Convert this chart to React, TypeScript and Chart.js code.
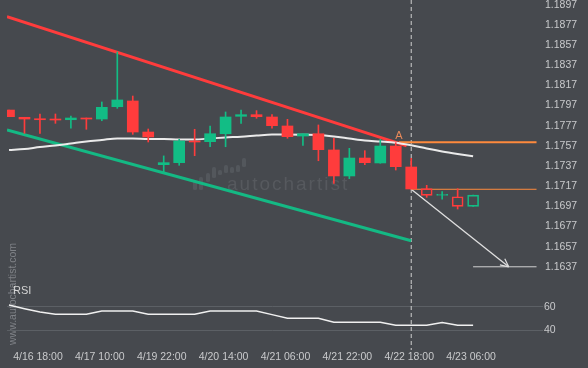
import React, { useEffect, useRef } from 'react';
import { Chart, registerables } from 'chart.js';

Chart.register(...registerables);

// ---------- data ----------
const opens = [1.17925, 1.17853, 1.17836, 1.17836, 1.17829, 1.17846, 1.17836, 1.17958, 1.18015, 1.17707, 1.17383, 1.17403, 1.17618, 1.17611, 1.1769, 1.17863, 1.17879, 1.17856, 1.17767, 1.17667, 1.1769, 1.17529, 1.17271, 1.17449, 1.174, 1.17568, 1.1736, 1.17145, 1.17079, 1.17065, 1.1697];
const highs = [1.17925, 1.17853, 1.17886, 1.17886, 1.17866, 1.17846, 1.18005, 1.18501, 1.18064, 1.17737, 1.1747, 1.17635, 1.17734, 1.17767, 1.17906, 1.17925, 1.17919, 1.17879, 1.17833, 1.1769, 1.17777, 1.17645, 1.17545, 1.17522, 1.17635, 1.17601, 1.17446, 1.17178, 1.17115, 1.17145, 1.17081];
const lows = [1.17859, 1.17694, 1.17694, 1.17793, 1.17744, 1.17734, 1.17819, 1.17942, 1.17684, 1.17608, 1.17313, 1.17377, 1.17472, 1.17561, 1.17561, 1.17793, 1.17843, 1.17744, 1.17645, 1.17575, 1.17422, 1.17198, 1.17244, 1.17383, 1.17397, 1.1733, 1.17142, 1.17059, 1.1704, 1.16943, 1.1697];
const closes = [1.17859, 1.17836, 1.17829, 1.17826, 1.17846, 1.17836, 1.17952, 1.18025, 1.17707, 1.17658, 1.17403, 1.17618, 1.17608, 1.1769, 1.17856, 1.17879, 1.17859, 1.1777, 1.17661, 1.1769, 1.17532, 1.17271, 1.17449, 1.17403, 1.17568, 1.17363, 1.17142, 1.17079, 1.17085, 1.1697, 1.17081];
const maValues = [1.17529, 1.17539, 1.17558, 1.17573, 1.17593, 1.17613, 1.17628, 1.17643, 1.17643, 1.17638, 1.17638, 1.17633, 1.17633, 1.17643, 1.17653, 1.17661, 1.17672, 1.17682, 1.17682, 1.1768, 1.17677, 1.17663, 1.17643, 1.17623, 1.17613, 1.17601, 1.17575, 1.17543, 1.17514, 1.17489, 1.17466];
const rsiValues = [61.4, 58.3, 55.5, 53.6, 53.6, 53.6, 56.4, 56.4, 56.4, 53.6, 53.6, 53.6, 53.6, 56.4, 56.4, 56.4, 56.4, 53.3, 50.3, 50.3, 50.3, 46.9, 46.9, 46.9, 46.9, 44.4, 44.4, 44.4, 46.6, 44.4, 44.4];

const priceTicks = [1.1897, 1.1877, 1.1857, 1.1837, 1.1817, 1.1797, 1.1777, 1.1757, 1.1737, 1.1717, 1.1697, 1.1677, 1.1657, 1.1637];
const rsiTicks = [40, 60];
const xTickIndex = [2, 6, 10, 14, 18, 22, 26, 30];
const xTickLabels = ['4/16 18:00', '4/17 10:00', '4/19 22:00', '4/20 14:00', '4/21 06:00', '4/21 22:00', '4/22 18:00', '4/23 06:00'];

const redTrend = [{ x: -0.13, y: 1.18852 }, { x: 25.7, y: 1.1757 }];
const greenTrend = [{ x: -0.13, y: 1.17727 }, { x: 26, y: 1.16628 }];
const signalIndex = 26;
const resistanceStart = 25.2;
const resistanceLevel = 1.17605;
const breakLevel = 1.17139;
const targetStart = 30;
const targetLevel = 1.1637;
const forecastEnd = 32.3;
const levelEnd = 34.1;

// ---------- axis ranges ----------
const X_MIN = -0.13;
const X_MAX = 34.195;
const PRICE_MIN = 1.161894;
const PRICE_MAX = 1.190166;
const RSI_MIN = 23.6;
const RSI_MAX = 78.2;

// ---------- styles ----------
const BG = '#46494e';
const TEXT = '#c9cacc';
const UP = '#12bd85';
const DOWN = '#ff3c3c';
const ORANGE = '#ff8a3d';
const FONT = '"Liberation Sans", Arial, sans-serif';

Chart.defaults.font.family = FONT;

const idx = opens.map((_, i) => i);
const colors = idx.map((i) => (closes[i] >= opens[i] ? UP : DOWN));
const hollow = idx.map((i) => i > signalIndex);

const logoBars = [
  [193, 180, 4, 10], [199, 177, 4, 13], [206, 173, 4, 9], [212, 167, 4, 11],
  [218, 170, 4, 5], [224, 165, 4, 8], [230, 167, 4, 6], [236, 165, 4, 7], [242, 158, 4, 9],
];

const mainDecor = {
  id: 'mainDecor',
  beforeDatasetsDraw(chart: any) {
    const ctx = chart.ctx;
    ctx.save();
    ctx.fillStyle = '#53575c';
    logoBars.forEach(([x, y, w, h]) => {
      ctx.beginPath();
      if (ctx.roundRect) ctx.roundRect(x, y, w, h, 1.5);
      else ctx.rect(x, y, w, h);
      ctx.fill();
    });
    ctx.font = '19px ' + FONT;
    try { (ctx as any).letterSpacing = '2px'; } catch (e) {}
    ctx.fillStyle = '#56595e';
    ctx.textAlign = 'left';
    ctx.textBaseline = 'alphabetic';
    ctx.fillText('autochartist', 227, 190);
    try { (ctx as any).letterSpacing = '0px'; } catch (e) {}
    ctx.restore();

    ctx.save();
    ctx.translate(13, 345);
    ctx.rotate(-Math.PI / 2);
    ctx.font = '10.5px ' + FONT;
    ctx.fillStyle = '#7f8287';
    ctx.textAlign = 'left';
    ctx.textBaseline = 'middle';
    ctx.fillText('www.autochartist.com', 0, 0);
    ctx.restore();
  },
  afterDatasetsDraw(chart: any) {
    const ctx = chart.ctx;
    const xs = chart.scales.x;
    const ys = chart.scales.y;
    const sx = xs.getPixelForValue(signalIndex);
    const sy = ys.getPixelForValue(breakLevel);
    const tx = xs.getPixelForValue(forecastEnd);
    const ty = ys.getPixelForValue(targetLevel);
    const ang = Math.atan2(ty - sy, tx - sx);
    ctx.save();
    ctx.strokeStyle = '#e0e0e0';
    ctx.lineWidth = 1.2;
    [-1, 1].forEach((s) => {
      const a = ang + Math.PI + s * 0.45;
      ctx.beginPath();
      ctx.moveTo(tx, ty);
      ctx.lineTo(tx + 9 * Math.cos(a), ty + 9 * Math.sin(a));
      ctx.stroke();
    });
    ctx.font = '11px ' + FONT;
    ctx.fillStyle = '#e8895a';
    ctx.textAlign = 'center';
    ctx.textBaseline = 'bottom';
    ctx.fillText('A', xs.getPixelForValue(resistanceStart), ys.getPixelForValue(resistanceLevel) - 1);
    ctx.restore();
  },
};

const rsiDecor = {
  id: 'rsiDecor',
  afterDraw(chart: any) {
    const ctx = chart.ctx;
    const a = chart.chartArea;
    ctx.save();
    ctx.font = '11px ' + FONT;
    ctx.fillStyle = '#d4d4d4';
    ctx.textAlign = 'left';
    ctx.textBaseline = 'middle';
    ctx.fillText('RSI', a.left + 6, a.top + 6);
    ctx.restore();
  },
};

const lineDs = (data: any[], color: string, width: number, order: number, extra: any = {}) => ({
  type: 'line',
  data,
  borderColor: color,
  borderWidth: width,
  pointRadius: 0,
  fill: false,
  order,
  ...extra,
});

export default function App() {
  const mainRef = useRef<HTMLCanvasElement>(null);
  const rsiRef = useRef<HTMLCanvasElement>(null);

  useEffect(() => {
    document.body.style.margin = '0';
    const main = new Chart(mainRef.current as HTMLCanvasElement, {
      type: 'bar',
      data: {
        datasets: [
          {
            type: 'bar',
            data: idx.map((i) => ({ x: i, y: [opens[i], closes[i]] })),
            backgroundColor: idx.map((i) => (hollow[i] ? 'rgba(0,0,0,0)' : colors[i])),
            borderColor: colors,
            borderWidth: idx.map((i) => (hollow[i] ? 1 : 0)),
            borderSkipped: false,
            barThickness: 11,
            grouped: false,
            minBarLength: 1,
            order: 0,
          } as any,
          {
            type: 'bar',
            data: idx.map((i) => ({ x: i, y: [Math.max(opens[i], closes[i]), highs[i]] })),
            backgroundColor: colors,
            borderWidth: 0,
            barThickness: 1,
            grouped: false,
            order: 1,
          } as any,
          {
            type: 'bar',
            data: idx.map((i) => ({ x: i, y: [lows[i], Math.min(opens[i], closes[i])] })),
            backgroundColor: colors,
            borderWidth: 0,
            barThickness: 1,
            grouped: false,
            order: 1,
          } as any,
          lineDs(idx.map((i) => ({ x: i, y: maValues[i] })), 'rgba(240,240,240,0.97)', 2, 2, { cubicInterpolationMode: 'monotone' }),
          lineDs(redTrend, DOWN, 3, 2),
          lineDs(greenTrend, '#14b984', 3, 2),
          lineDs([{ x: resistanceStart, y: resistanceLevel }, { x: levelEnd, y: resistanceLevel }], ORANGE, 2, 2),
          lineDs([{ x: signalIndex, y: breakLevel }, { x: levelEnd, y: breakLevel }], ORANGE, 1, 2),
          lineDs([{ x: targetStart, y: targetLevel }, { x: levelEnd, y: targetLevel }], '#d2d2d2', 1, 2),
          lineDs([{ x: signalIndex, y: breakLevel }, { x: forecastEnd, y: targetLevel }], '#e0e0e0', 1.3, 2),
          lineDs([{ x: signalIndex, y: PRICE_MAX }, { x: signalIndex, y: PRICE_MIN }], '#cfcfcf', 1, 5, { borderDash: [4, 3] }),
        ] as any,
      },
      options: {
        responsive: false,
        animation: false,
        devicePixelRatio: 1,
        layout: { padding: { left: 7, top: 0, right: 0, bottom: 83 } },
        plugins: { legend: { display: false }, tooltip: { enabled: false } },
        scales: {
          x: { type: 'linear', min: X_MIN, max: X_MAX, display: false, offset: false },
          y: {
            type: 'linear',
            position: 'right',
            min: PRICE_MIN,
            max: PRICE_MAX,
            beginAtZero: false,
            afterBuildTicks: (s: any) => { s.ticks = priceTicks.map((v) => ({ value: v })); },
            afterFit: (s: any) => { s.width = 50; s.paddingTop = 0; s.paddingBottom = 0; },
            grid: { display: false, drawTicks: false },
            border: { display: false },
            ticks: { color: TEXT, font: { size: 10.5 }, padding: 7, callback: (v: any) => Number(v).toFixed(4) },
          },
        },
      } as any,
      plugins: [mainDecor],
    });

    const rsi = new Chart(rsiRef.current as HTMLCanvasElement, {
      type: 'line',
      data: {
        datasets: [
          lineDs(rsiValues.map((v, i) => ({ x: i, y: v })), '#f0f0f0', 1.5, 0, { tension: 0 }),
          lineDs([{ x: signalIndex, y: RSI_MAX }, { x: signalIndex, y: RSI_MIN }], '#cfcfcf', 1, 1, { borderDash: [4, 3] }),
        ] as any,
      },
      options: {
        responsive: false,
        animation: false,
        devicePixelRatio: 1,
        layout: { padding: { left: 7, top: 285, right: 0, bottom: 0 } },
        plugins: { legend: { display: false }, tooltip: { enabled: false } },
        scales: {
          x: {
            type: 'linear',
            min: X_MIN,
            max: X_MAX,
            offset: false,
            afterBuildTicks: (s: any) => { s.ticks = xTickIndex.map((v) => ({ value: v })); },
            afterFit: (s: any) => { s.height = 18; },
            grid: { display: false, drawTicks: false },
            border: { display: false },
            ticks: {
              color: TEXT,
              font: { size: 10.5 },
              padding: 1,
              maxRotation: 0,
              minRotation: 0,
              autoSkip: false,
              labelOffset: -2,
              callback: (_v: any, i: number) => xTickLabels[i],
            },
          },
          y: {
            type: 'linear',
            position: 'right',
            min: RSI_MIN,
            max: RSI_MAX,
            afterBuildTicks: (s: any) => { s.ticks = rsiTicks.map((v) => ({ value: v })); },
            afterFit: (s: any) => { s.width = 50; },
            grid: { color: '#5c6065', drawTicks: true, tickLength: 5 },
            border: { display: false },
            ticks: { color: TEXT, font: { size: 10.5 }, padding: 1, callback: (v: any) => String(v) },
          },
        },
      } as any,
      plugins: [rsiDecor],
    });

    return () => {
      main.destroy();
      rsi.destroy();
    };
  }, []);

  return (
    <div style={{ position: 'relative', width: 588, height: 368, background: BG, overflow: 'hidden' }}>
      <canvas ref={mainRef} width={588} height={368} style={{ position: 'absolute', left: 0, top: 0 }} />
      <canvas ref={rsiRef} width={588} height={368} style={{ position: 'absolute', left: 0, top: 0 }} />
    </div>
  );
}
